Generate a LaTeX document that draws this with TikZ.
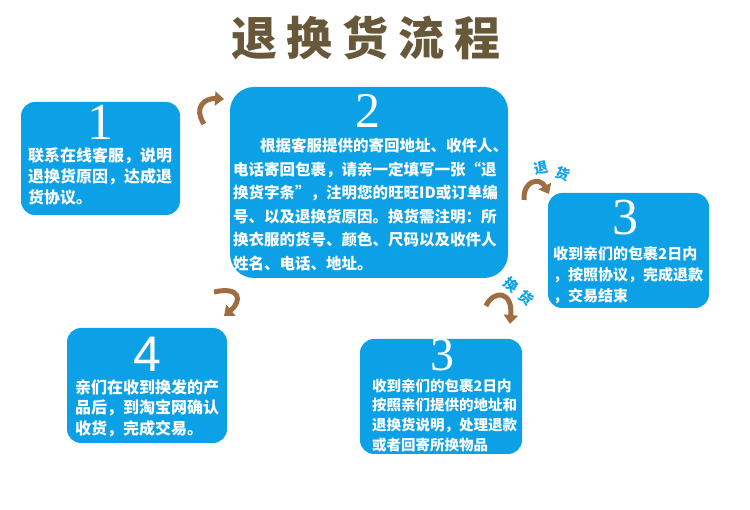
\documentclass[tikz,border=0pt]{standalone}
\usepackage{fontspec}
\setmainfont{Liberation Serif}
\newfontfamily\cjk{Noto Sans CJK SC}
\newfontfamily\numsans{Liberation Sans}
\usetikzlibrary{arrows.meta}
\definecolor{stepblue}{RGB}{12,161,230}
\definecolor{titlebrown}{RGB}{104,88,58}
\definecolor{arrowbrown}{RGB}{158,110,66}

\begin{document}
\begin{tikzpicture}[x=1pt, y=-1pt, >=Triangle,
    box/.style={fill=stepblue, rounded corners=14pt, inner sep=0pt},
    num/.style={text=white, anchor=base, inner sep=0pt, text depth=0pt, font=\fontsize{52}{52}\selectfont},
    txt/.style={text=white, anchor=north west, inner sep=0pt, align=left},
    turnarrow/.style={draw=arrowbrown, line width=5pt, -{Triangle[length=9pt, width=14pt]}},
    tag/.style={text=stepblue, inner sep=0pt, font=\cjk\bfseries\fontsize{14}{14}\selectfont}]
  \useasboundingbox (0,0) rectangle (750,510);
  % title, one glyph every 56px
  \node[text=titlebrown, font=\cjk\bfseries\fontsize{46}{46}\selectfont] (title) at (366,38)
    {退\hspace{10pt}换\hspace{10pt}货\hspace{10pt}流\hspace{10pt}程};

  % the five steps
  \node[box, minimum width=159pt, minimum height=113pt] (box1) at (100.5,158.5) {};
  \node[box, rounded corners=24pt, minimum width=278pt, minimum height=191pt] (box2) at (369,182.5) {};
  \node[box, minimum width=161pt, minimum height=115pt] (box3) at (628.5,250.5) {};
  \node[box, minimum width=160pt, minimum height=115pt] (box4) at (147,385.5) {};
  \node[box, minimum width=162pt, minimum height=115pt] (box5) at (441,396.5) {};

  \node[num] (n1) at (100,140) {1};
  \node[num, font=\fontsize{50}{50}\selectfont] (n2) at (368,128) {2};
  \node[num] (n3) at (625,235) {3};
  \node[num, font=\numsans\fontsize{50}{50}\selectfont] (n4) at (147,372) {4};
  \node[num, font=\fontsize{48}{48}\selectfont] (n5) at (442,371) {3};

  \node[txt, font=\cjk\bfseries\fontsize{16}{21}\selectfont] (t1) at (28,147)
    {联系在线客服，说明\\退换货原因，达成退\\货协议。};
  \node[txt, font=\cjk\bfseries\fontsize{15.5}{23.5}\selectfont] (t2) at (233,138)
    {\hspace*{27pt}根据客服提供的寄回地址、收件人、\\电话寄回包裹，请亲一定填写一张“退\\换货字条”，注明您的旺旺ID或订单编\\号、以及退换货原因。换货需注明：所\\换衣服的货号、颜色、尺码以及收件人\\姓名、电话、地址。};
  \node[txt, font=\cjk\bfseries\fontsize{15}{21}\selectfont] (t3) at (553,246)
    {收到亲们的包裹2日内\\，按照协议，完成退款\\，交易结束};
  \node[txt, font=\cjk\bfseries\fontsize{16}{20.5}\selectfont] (t4) at (75,379)
    {亲们在收到换发的产\\品后，到淘宝网确认\\收货，完成交易。};
  \node[txt, font=\cjk\bfseries\fontsize{14.5}{19.7}\selectfont] (t5) at (372,378.5)
    {收到亲们的包裹2日内\\按照亲们提供的地址和\\退换货说明，处理退款\\或者回寄所换物品};

  % curved arrows between the steps
  \coordinate (a1s) at (204,124); \coordinate (a1e) at (224,99);
  \draw[turnarrow] (a1s) .. controls (193,107) and (205,98) .. (a1e);
  \coordinate (a2s) at (524,200); \coordinate (a2e) at (549,194);
  \draw[turnarrow] (a2s) .. controls (523,180) and (540,177) .. (a2e);
  \coordinate (a3s) at (486,306); \coordinate (a3e) at (510,324);
  \draw[turnarrow] (a3s) .. controls (493,290) and (513,290) .. (a3e);
  \coordinate (a4s) at (214,292); \coordinate (a4e) at (224,316);
  \draw[turnarrow] (a4s) .. controls (241,286) and (242,301) .. (a4e);

  \node[tag, rotate=12] (tui) at (541,168) {退};
  \node[tag, rotate=-20] (huo1) at (563,174) {货};
  \node[tag, rotate=-40] (huan) at (511,285) {换};
  \node[tag, rotate=-40] (huo2) at (526,298) {货};
\end{tikzpicture}
\end{document}
